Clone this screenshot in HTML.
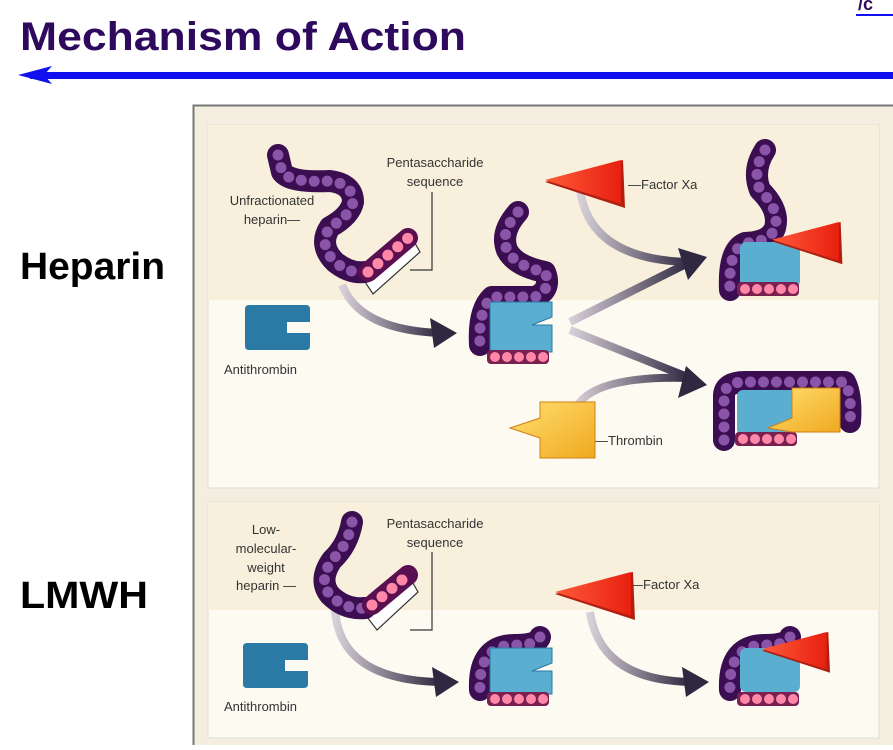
<!DOCTYPE html>
<html><head><meta charset="utf-8"><style>
body{margin:0;width:893px;height:745px;overflow:hidden;background:#fff;font-family:"Liberation Sans",sans-serif}
</style></head><body>
<svg width="893" height="745" viewBox="0 0 893 745" xmlns="http://www.w3.org/2000/svg" font-family="Liberation Sans, sans-serif">
<defs>
<linearGradient id="arr" x1="0" x2="1"><stop offset="0" stop-color="#d8d0d8"/><stop offset="1" stop-color="#2e2840"/></linearGradient>
<linearGradient id="red" x1="0" x2="1"><stop offset="0" stop-color="#ff5a3a"/><stop offset="1" stop-color="#e82010"/></linearGradient>
<linearGradient id="yel" x1="0" x2="1" y1="0" y2="1"><stop offset="0" stop-color="#ffe070"/><stop offset="1" stop-color="#f0a820"/></linearGradient>
<g id="at"><path d="M0 4Q0 0 4 0H61Q65 0 65 4V17H42V28H65V41Q65 45 61 45H4Q0 45 0 41Z" fill="#2b7aa6"/></g>
<g id="fxa"><polygon points="0,22 78,0 80,48" fill="#b02010"/><polygon points="0,20 76,0 76,44" fill="url(#red)"/></g>
</defs>
<text x="20" y="50" font-size="40" font-weight="bold" fill="#2e0a5e" textLength="446" lengthAdjust="spacingAndGlyphs">Mechanism of Action</text>
<rect x="30" y="72" width="863" height="7" fill="#1010f0"/>
<polygon points="18,75 52,66 44,75 52,84" fill="#1010f0"/>
<text x="858" y="10" font-size="18" font-weight="bold" fill="#2e0a5e">/c</text><rect x="856" y="14" width="37" height="2" fill="#1010f0"/>
<text x="20" y="279" font-size="38" font-weight="bold" fill="#000" textLength="145" lengthAdjust="spacingAndGlyphs">Heparin</text>
<text x="20" y="608" font-size="38" font-weight="bold" fill="#000" textLength="128" lengthAdjust="spacingAndGlyphs">LMWH</text>
<rect x="193.5" y="105.5" width="705" height="645" fill="#f3eedf" stroke="#777" stroke-width="2"/>
<rect x="208" y="125" width="671" height="363" fill="#fdfbf1" stroke="#ddd"/>
<rect x="208" y="125" width="671" height="175" fill="#f8f0dc"/>
<rect x="208" y="502" width="671" height="236" fill="#fdfbf1" stroke="#ddd"/>
<rect x="208" y="502" width="671" height="108" fill="#f8f0dc"/>
<!-- arrows -->
<g fill="none" stroke="url(#arr)" stroke-width="8">
<path d="M315 328H440"/><path d="M342 285Q360 330 440 333"/>
<path d="M570 322L690 262"/><path d="M580 190Q590 260 690 262"/>
<path d="M570 330L690 378"/><path d="M575 410Q590 375 690 378"/>
<path d="M315 680H440"/><path d="M335 610Q340 680 440 682"/>
<path d="M562 680H690"/><path d="M590 612Q600 680 690 682"/>
</g>
<g fill="#2e2840">
<polygon points="457,333 430,318 434,348"/><polygon points="707,257 678,248 688,280"/><polygon points="707,385 686,366 678,398"/>
<polygon points="459,682 432,667 436,697"/><polygon points="709,682 682,667 686,697"/>
</g>
<g font-size="13" fill="#333">
<text x="435" y="167" text-anchor="middle">Pentasaccharide</text><text x="435" y="186" text-anchor="middle">sequence</text>
<text x="272" y="205" text-anchor="middle">Unfractionated</text><text x="272" y="224" text-anchor="middle">heparin—</text>
<text x="224" y="374">Antithrombin</text>
<text x="628" y="189">—Factor Xa</text>
<text x="595" y="445">—Thrombin</text>
<text x="435" y="528" text-anchor="middle">Pentasaccharide</text><text x="435" y="547" text-anchor="middle">sequence</text>
<text x="266" y="534" text-anchor="middle">Low-</text><text x="266" y="553" text-anchor="middle">molecular-</text><text x="266" y="572" text-anchor="middle">weight</text><text x="266" y="590" text-anchor="middle">heparin —</text>
<text x="630" y="589">—Factor Xa</text>
<text x="224" y="711">Antithrombin</text>
</g>
<g fill="none" stroke="#333" stroke-width="1.2">
<path d="M432 192V270H410"/><path d="M432 552V630H410"/>
<polygon points="365,282 412,238 420,252 373,294" fill="#fff"/>
<polygon points="367,617 410,578 418,592 377,630" fill="#fff"/>
</g>
<!-- chains -->
<g fill="none" stroke-linecap="round" stroke-linejoin="round">
<g stroke="#3a0e50" stroke-width="22" id="ch">
<path d="M278 155L282 172Q290 183 330 181Q353 184 353 202Q350 216 330 227Q318 245 335 262Q350 274 365 272"/>
<path d="M518 212Q500 232 507 250Q515 266 545 272Q552 290 535 297H492Q478 310 480 345"/>
<path d="M765 150Q752 170 760 190Q780 210 775 228Q770 242 745 243Q728 250 730 290"/>
<path d="M724 440V395Q725 382 745 382H845Q852 395 850 422"/>
<path d="M352 522Q348 545 332 560Q318 580 330 595Q345 610 365 608"/>
<path d="M540 637Q538 645 515 645Q478 645 480 690"/>
<path d="M790 637Q788 645 765 645Q728 645 730 690"/>
</g>
<g stroke="#8a55a8" stroke-width="11" stroke-dasharray="0 13">
<path d="M278 155L282 172Q290 183 330 181Q353 184 353 202Q350 216 330 227Q318 245 335 262Q350 274 365 272"/>
<path d="M518 212Q500 232 507 250Q515 266 545 272Q552 290 535 297H492Q478 310 480 345"/>
<path d="M765 150Q752 170 760 190Q780 210 775 228Q770 242 745 243Q728 250 730 290"/>
<path d="M724 440V395Q725 382 745 382H845Q852 395 850 422"/>
<path d="M352 522Q348 545 332 560Q318 580 330 595Q345 610 365 608"/>
<path d="M540 637Q538 645 515 645Q478 645 480 690"/>
<path d="M790 637Q788 645 765 645Q728 645 730 690"/>
</g>
<g stroke="#5a1050" stroke-width="20"><path d="M368 272L408 238"/><path d="M372 605L408 575"/></g>
<g stroke="#ff88a8" stroke-width="11" stroke-dasharray="0 13"><path d="M368 272L408 238"/><path d="M372 605L408 575"/></g>
</g>
<!-- complex bodies -->
<use href="#at" x="245" y="305"/><use href="#at" x="243" y="643"/>
<g>
<path d="M490 302H552V317L532 325L552 325V352H490Z" fill="#5aaed0" stroke="#2b7aa6"/>
<rect x="487" y="350" width="62" height="14" rx="4" fill="#7a2050"/>
<path d="M490 648H552V663L532 671L552 671V694H490Z" fill="#5aaed0" stroke="#2b7aa6"/>
<rect x="487" y="692" width="62" height="14" rx="4" fill="#7a2050"/>
<rect x="740" y="242" width="60" height="45" rx="6" fill="#5aaed0"/><rect x="737" y="282" width="62" height="14" rx="4" fill="#7a2050"/>
<rect x="737" y="390" width="60" height="45" rx="6" fill="#5aaed0"/><rect x="735" y="432" width="62" height="14" rx="4" fill="#7a2050"/>
<rect x="740" y="648" width="60" height="44" rx="6" fill="#5aaed0"/><rect x="737" y="692" width="62" height="14" rx="4" fill="#7a2050"/>
<g stroke="#ff88a8" stroke-width="10" stroke-dasharray="0 12" stroke-linecap="round"><path d="M495 357H545"/><path d="M495 699H545"/><path d="M745 289H795"/><path d="M743 439H793"/><path d="M745 699H795"/></g>
</g>
<g transform="translate(545,160)"><use href="#fxa"/></g>
<g transform="translate(555,572)"><use href="#fxa"/></g>
<g transform="translate(772,222) scale(0.88)"><use href="#fxa"/></g>
<g transform="translate(762,632) scale(0.85)"><use href="#fxa"/></g>
<path d="M510 428L540 418V402H595V458H540V438Z" fill="url(#yel)" stroke="#d08010"/>
<path d="M768 428L792 418V388H840V432H792Z" fill="url(#yel)" stroke="#d08010"/>
</svg>
</body></html>
